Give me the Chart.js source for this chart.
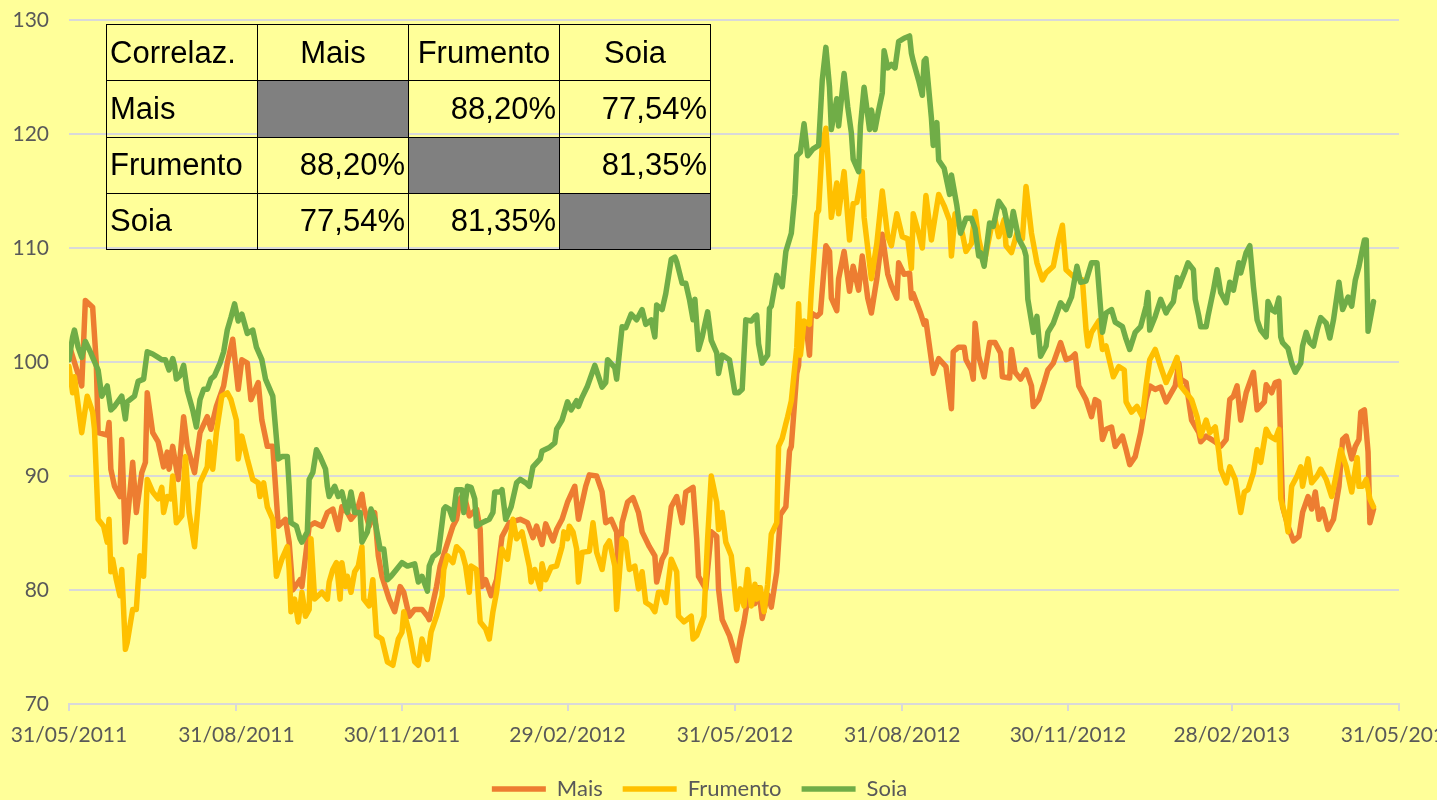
<!DOCTYPE html>
<html>
<head>
<meta charset="utf-8">
<script src="https://cdn.jsdelivr.net/npm/chart.js@4.4.1/dist/chart.umd.min.js"></script>
<style>
  html, body { margin: 0; padding: 0; background: #FFFF99; overflow: hidden; }
  #wrap { position: relative; width: 1437px; height: 800px; overflow: hidden; }
  #box { position: absolute; left: 0; top: 0; width: 1437px; height: 810px; }
  table.corr {
    position: absolute; left: 106px; top: 24px; width: 605px; height: 226px;
    border-collapse: collapse; table-layout: fixed;
    font-family: 'Liberation Sans', Arial, sans-serif; font-size: 31px; color: #000;
  }
  table.corr td { border: 1.5px solid #000; padding: 0 3px; white-space: nowrap; }
  table.corr td.num { text-align: right; }
  table.corr td.head { text-align: center; }
  table.corr td.gray { background: #808080; }
</style>
</head>
<body>
<div id="wrap">
  <div id="box"><canvas id="grafico"></canvas></div>
  <table class="corr" id="tabella"></table>
</div>
<script>
// asse x: giorni dal 31/05/2011
const tickDays = [0, 92, 183, 274, 366, 458, 549, 639, 731];
const tickLabels = ['31/05/2011', '31/08/2011', '30/11/2011', '29/02/2012', '31/05/2012',
                    '31/08/2012', '30/11/2012', '28/02/2013', '31/05/2013'];

const maisDays = [0,1,7,9,13,15,16,21,22,23,25,28,29,31,35,37,40,42,43,46,49,52,54,55,57,60,63,65,69,72,76,78,81,85,87,90,93,95,98,100,104,106,109,112,115,119,121,123,127,128,132,135,139,142,145,148,150,153,155,158,161,162,165,168,170,172,176,179,182,184,187,190,194,197,198,202,204,207,211,213,215,217,220,224,226,227,229,232,235,238,242,248,252,255,257,260,262,266,268,271,274,278,280,284,286,290,293,295,298,301,302,304,307,310,313,315,319,322,323,326,328,331,334,337,339,343,345,346,350,353,356,357,359,363,367,369,371,374,375,377,379,381,384,386,389,391,394,396,397,400,401,402,405,407,408,411,413,416,418,419,422,423,426,429,431,434,436,439,441,444,447,450,452,455,456,459,462,463,464,468,470,471,475,478,482,485,486,489,492,493,496,497,498,500,503,506,509,512,513,517,518,520,523,526,529,530,533,536,538,541,545,548,551,553,555,559,562,564,566,568,570,573,575,579,581,583,586,589,592,594,597,600,603,608,610,611,614,617,621,622,625,630,633,636,638,640,642,644,647,651,653,657,658,661,663,665,667,670,673,676,678,681,683,685,687,689,692,695,698,700,702,705,707,709,710,712,714,715,717];
const maisValues = [100.5,101.0,97.9,105.4,104.8,99.9,93.8,93.6,94.7,90.6,89.1,88.2,93.2,84.2,91.2,86.8,90.3,91.2,97.3,93.8,93.0,90.8,92.1,90.6,92.6,89.7,95.2,92.6,90.3,93.8,95.2,94.1,96.1,97.9,99.9,102.0,97.6,100.2,99.9,96.7,98.2,94.9,92.6,92.6,85.6,86.2,84.2,80.0,80.9,80.3,85.6,85.9,85.6,86.8,87.1,85.3,87.3,86.8,86.2,86.8,88.4,87.3,85.6,86.8,83.0,81.2,79.2,78.1,80.3,79.8,77.7,78.3,78.3,77.7,77.4,80.3,82.1,83.6,85.6,86.2,88.0,88.4,86.5,87.1,85.3,80.3,80.9,79.5,80.9,84.7,85.9,86.2,85.9,84.6,85.6,84.0,85.8,84.3,85.3,86.2,87.7,89.1,86.2,89.1,90.1,90.0,88.6,85.9,86.2,85.1,81.0,85.9,87.7,88.1,86.8,85.1,83.8,83.0,80.7,82.7,83.3,87.3,88.2,85.9,88.6,89.0,84.5,81.2,80.1,85.1,84.7,80.1,77.4,76.0,73.8,75.7,77.2,80.1,79.2,78.8,80.2,77.5,79.6,78.5,81.6,86.6,87.3,92.2,92.6,99.0,99.7,103.3,103.3,100.6,104.3,104.0,104.3,110.2,109.7,105.6,104.5,107.3,109.7,106.2,108.4,106.3,109.3,105.6,104.3,107.3,111.2,107.7,106.7,105.6,108.7,107.7,107.8,105.6,106.0,104.3,103.3,103.6,99.0,100.3,99.6,95.9,100.9,101.3,101.3,100.2,99.3,98.5,103.4,100.5,98.7,101.7,101.7,100.8,98.7,98.6,101.1,99.1,98.5,99.3,97.9,96.1,96.7,98.2,99.3,99.9,101.7,100.2,100.4,100.7,97.9,96.7,95.2,96.7,96.5,93.2,94.1,94.3,92.6,93.5,92.3,91.0,91.7,93.8,96.7,97.9,97.6,97.8,96.5,97.9,99.9,98.5,98.2,94.9,93.8,93.0,93.5,93.0,92.6,93.2,96.7,97.0,97.9,94.9,97.3,99.1,95.8,96.5,98.0,97.3,98.2,98.3,87.3,85.6,84.3,84.7,86.8,88.2,87.1,88.6,86.2,87.1,85.3,86.2,89.1,93.2,93.5,91.5,92.6,93.2,95.6,95.8,92.1,85.9,87.1];

const frumentoDays = [0,2,3,7,10,13,14,16,19,21,22,23,24,26,28,29,31,32,35,37,39,41,43,46,49,51,52,54,56,57,59,62,64,66,69,72,76,77,79,81,84,87,89,92,93,95,98,101,104,105,107,109,112,114,117,120,121,122,124,126,128,130,132,133,135,139,142,143,145,147,149,150,152,153,155,157,159,161,162,165,167,169,172,175,178,181,183,184,187,190,192,194,197,199,202,205,206,208,211,213,216,218,220,221,224,226,229,231,233,235,238,241,244,246,249,253,254,256,259,260,262,265,268,271,272,274,275,277,279,280,282,286,288,290,293,295,297,300,301,304,306,308,311,313,315,317,320,322,324,326,328,331,334,335,338,342,343,345,349,351,353,356,357,359,361,364,367,369,371,373,375,377,378,380,382,384,386,389,390,392,394,395,397,400,401,402,404,407,408,411,412,414,416,417,419,422,423,426,429,431,433,436,437,441,444,447,450,452,455,458,461,463,464,467,469,471,474,478,481,484,485,487,491,493,496,498,500,503,507,509,511,514,515,518,521,524,526,529,532,535,537,541,544,546,548,552,557,559,560,562,566,568,570,574,577,580,581,584,587,590,592,594,597,600,603,607,609,611,614,617,620,622,625,627,630,632,633,636,638,641,644,646,648,651,653,655,658,660,663,665,666,669,670,672,675,677,678,681,683,686,688,691,694,696,699,702,705,708,709,711,713,715,717];
const frumentoValues = [99.6,97.3,98.7,93.8,97.0,95.6,94.1,86.2,85.6,84.2,86.2,81.6,82.7,80.9,79.5,81.8,74.8,75.4,78.3,78.3,83.0,81.2,89.7,88.6,88.0,89.0,86.8,88.2,88.0,90.0,85.9,86.5,91.7,86.8,83.8,89.4,90.8,93.0,90.6,93.8,97.0,97.3,96.7,94.9,91.5,93.5,91.5,89.7,89.4,88.2,89.4,87.3,86.2,81.2,82.7,83.8,81.8,78.1,79.2,77.2,79.8,77.7,78.3,84.5,79.2,79.8,79.2,80.7,81.8,82.4,79.2,82.4,80.3,81.2,79.8,81.6,82.1,83.8,79.2,78.6,80.9,76.0,75.7,73.7,73.4,75.7,76.3,78.1,76.3,73.7,73.4,75.7,73.9,76.3,77.7,79.5,81.8,83.0,82.4,83.8,83.3,82.1,79.8,82.1,81.8,77.2,76.6,75.7,78.1,79.8,83.6,82.7,86.2,84.5,85.1,82.1,80.7,81.8,80.1,82.3,80.9,82.0,82.1,83.8,85.1,84.5,85.6,85.1,83.6,80.7,83.3,83.4,85.9,83.3,81.8,83.8,84.3,82.1,78.3,84.5,84.2,81.8,82.1,80.1,81.6,78.9,78.6,78.1,79.8,79.8,78.9,82.7,81.6,77.7,77.2,77.7,75.7,76.0,77.7,84.5,90.0,87.7,85.3,86.8,84.2,83.0,78.3,80.1,78.6,81.8,78.6,80.5,79.2,80.2,78.1,80.5,84.9,85.9,92.6,93.3,94.6,95.2,96.6,101.3,105.1,100.6,103.6,103.3,106.3,113.0,113.3,119.0,120.5,118.1,112.7,115.7,113.0,116.7,110.7,113.9,114.0,116.7,112.7,107.3,110.4,115.0,111.0,110.2,113.0,111.0,110.8,108.2,113.0,111.3,110.0,114.6,110.7,114.7,113.7,112.4,109.3,113.0,111.3,109.7,110.4,113.2,110.8,108.7,111.9,112.5,111.0,112.5,110.2,109.6,111.3,110.8,115.4,111.3,108.7,107.2,107.8,108.4,110.8,112.0,108.1,107.5,107.2,102.8,101.4,102.6,103.6,101.1,101.4,98.7,99.6,99.3,96.5,95.6,96.1,95.2,97.9,100.2,101.1,99.6,98.2,99.6,100.4,97.9,97.3,96.7,95.2,93.5,94.9,93.8,94.3,92.1,90.6,89.4,90.8,89.7,86.8,88.6,88.8,90.3,92.3,91.2,94.1,93.5,93.2,94.1,88.0,86.2,85.1,89.1,90.0,90.8,89.1,91.5,89.4,90.0,90.6,89.7,88.2,89.7,92.3,90.8,88.6,91.6,89.1,89.1,89.7,88.0,87.3];

const soiaDays = [0,2,3,5,7,9,12,13,16,18,21,23,25,29,31,32,36,38,41,43,46,49,51,53,55,57,58,59,61,63,65,68,70,72,74,76,78,80,83,85,87,89,91,93,95,98,101,103,106,108,112,115,117,120,121,122,125,127,128,131,132,134,136,138,141,142,143,146,148,150,152,153,155,157,160,161,164,166,168,171,173,175,177,180,183,186,190,192,194,197,198,200,203,204,206,207,209,211,213,216,217,219,221,223,224,227,231,233,234,237,238,240,243,246,248,251,253,255,259,260,264,267,268,271,274,276,279,280,282,285,289,293,295,296,300,301,304,306,309,312,315,317,320,322,323,326,328,331,333,334,337,339,341,343,344,346,348,351,353,356,357,359,363,366,368,370,372,375,377,378,379,381,384,385,386,389,392,394,397,399,400,402,404,406,409,412,414,416,418,419,422,423,426,428,430,431,434,435,437,440,441,443,445,447,448,450,452,454,456,459,462,463,464,467,469,470,471,474,475,477,478,481,484,485,488,490,493,496,498,500,501,503,506,508,511,514,517,519,522,525,526,527,530,532,534,537,538,541,545,548,551,554,556,559,562,565,568,570,573,575,579,581,583,586,589,592,593,594,597,600,603,604,607,609,610,613,615,618,619,621,622,625,626,629,631,633,636,638,640,643,644,647,649,651,653,655,658,659,661,663,665,666,667,670,672,674,677,678,680,682,684,686,688,691,693,695,698,700,703,705,707,709,710,712,713,714,717];
const soiaValues = [100.2,102.2,102.8,101.3,100.4,101.8,100.8,100.4,99.3,97.0,97.9,95.8,96.1,97.0,95.0,96.5,97.0,98.3,98.5,100.9,100.7,100.4,100.2,100.2,99.3,100.3,99.7,98.5,98.8,99.7,97.5,95.8,94.3,96.7,97.6,97.6,98.5,98.8,99.9,100.9,102.8,103.9,105.1,103.6,104.2,102.5,102.8,101.3,100.2,98.5,97.0,91.5,91.7,91.7,89.1,85.9,85.6,84.5,84.2,85.1,89.7,90.3,92.3,91.7,90.6,89.1,88.2,89.1,88.2,88.6,87.3,86.8,88.6,86.8,86.8,84.2,85.1,87.1,86.2,83.6,83.6,80.9,81.2,81.8,82.4,82.1,82.3,80.7,81.2,79.9,82.1,82.9,83.3,84.5,87.1,87.3,87.1,86.2,88.8,88.8,86.8,89.1,89.0,88.0,85.6,85.9,86.2,86.8,88.6,88.6,88.8,86.2,87.3,89.4,89.7,89.4,89.1,90.8,91.5,92.2,92.5,92.9,94.1,94.9,96.5,95.8,96.6,96.1,96.9,97.9,99.7,97.8,98.2,100.2,99.5,98.5,103.1,103.0,104.2,103.7,104.6,103.3,103.7,102.2,105.0,104.6,106.0,109.0,109.2,108.8,106.9,106.9,105.5,103.7,105.5,101.1,102.2,104.4,101.9,100.8,99.0,100.6,100.2,97.3,97.3,97.6,103.7,103.6,104.0,104.1,101.6,99.9,100.6,104.7,104.9,107.6,106.6,109.7,111.3,114.7,118.1,118.4,120.9,118.1,118.7,119.0,124.7,127.6,124.1,120.4,123.1,120.7,125.3,122.4,120.1,117.8,116.7,120.7,124.1,120.4,122.1,120.4,122.1,123.6,127.3,125.8,126.1,125.8,128.1,128.4,128.6,127.1,126.4,124.7,123.4,126.4,126.6,121.4,119.0,121.0,117.7,117.0,114.7,116.4,113.7,111.3,112.6,112.6,111.7,109.3,109.6,108.4,112.2,111.9,114.1,113.4,111.1,113.2,110.8,109.9,109.3,105.5,102.6,104.0,100.5,101.4,102.6,103.4,105.2,104.6,105.7,108.4,107.0,107.1,108.7,108.7,102.6,104.3,104.6,103.5,103.1,102.0,101.1,102.6,103.1,104.9,106.1,102.8,104.0,105.5,104.3,104.6,105.3,107.4,106.6,107.8,108.7,108.1,105.5,104.0,103.1,103.1,104.0,106.3,108.1,106.1,105.2,107.0,106.3,108.7,107.8,109.6,110.2,106.6,103.7,102.8,102.2,105.3,104.6,104.4,105.6,102.2,101.7,101.2,99.9,99.1,99.9,101.4,102.6,101.7,101.4,102.8,103.9,103.4,102.1,103.7,107.0,104.6,105.7,104.9,107.2,108.4,109.2,110.7,110.7,102.7,105.3];

// tabella correlazioni
const crops = ['Mais', 'Frumento', 'Soia'];
const corrValues = [
  [null, '88,20%', '77,54%'],
  ['88,20%', null, '81,35%'],
  ['77,54%', '81,35%', null]
];

const tabella = document.getElementById('tabella');
let html = '<tr><td>Correlaz.</td>' + crops.map(c => '<td class="head">' + c + '</td>').join('') + '</tr>';
crops.forEach((c, i) => {
  html += '<tr><td>' + c + '</td>';
  corrValues[i].forEach(v => {
    html += v === null ? '<td class="gray"></td>' : '<td class="num">' + v + '</td>';
  });
  html += '</tr>';
});
tabella.innerHTML = html;

function punti(days, values) {
  return days.map((d, i) => ({ x: d, y: values[i] }));
}

Chart.defaults.font.family = 'Lato';
Chart.defaults.font.size = 21;
Chart.defaults.color = '#595959';

const grafico = new Chart(document.getElementById('grafico'), {
  type: 'line',
  data: {
    datasets: [
      { label: 'Mais', data: punti(maisDays, maisValues), borderColor: '#ED7D31', backgroundColor: '#ED7D31', borderWidth: 5.5, order: 3 },
      { label: 'Frumento', data: punti(frumentoDays, frumentoValues), borderColor: '#FFC000', backgroundColor: '#FFC000', borderWidth: 5.5, order: 2 },
      { label: 'Soia', data: punti(soiaDays, soiaValues), borderColor: '#70AD47', backgroundColor: '#70AD47', borderWidth: 5.5, order: 1 }
    ]
  },
  options: {
    responsive: true,
    maintainAspectRatio: false,
    animation: false,
    elements: {
      line: { tension: 0, borderJoinStyle: 'round', borderCapStyle: 'round' },
      point: { radius: 0 }
    },
    layout: { padding: { top: 20, right: 38, left: 0, bottom: 0 } },
    scales: {
      x: {
        type: 'linear',
        min: 0,
        max: 731,
        afterBuildTicks: (scale) => { scale.ticks = tickDays.map(v => ({ value: v })); },
        afterFit: (scale) => {
          scale.height = 54;
          scale.paddingLeft = 0; scale.paddingRight = 0;
          scale.paddingTop = 0; scale.paddingBottom = 0;
        },
        ticks: {
          autoSkip: false,
          maxRotation: 0,
          padding: 12,
          callback: (value) => {
            const i = tickDays.indexOf(value);
            return i >= 0 ? tickLabels[i] : '';
          }
        },
        grid: { drawOnChartArea: false, color: '#D9D9D9', lineWidth: 2, tickLength: 7 },
        border: { color: '#D9D9D9', width: 2 }
      },
      y: {
        min: 70,
        max: 130,
        afterFit: (scale) => {
          scale.width = 69;
          scale.paddingTop = 0; scale.paddingBottom = 0;
        },
        ticks: { stepSize: 10, padding: 20 },
        grid: { color: '#D9D9D9', lineWidth: 2, drawTicks: false },
        border: { display: false }
      }
    },
    plugins: {
      legend: {
        position: 'bottom',
        labels: {
          usePointStyle: true,
          pointStyle: 'line',
          pointStyleWidth: 54,
          padding: 20,
          color: '#595959',
          font: { size: 22 },
          sort: (a, b) => a.datasetIndex - b.datasetIndex
        }
      },
      tooltip: { enabled: false }
    }
  }
});
</script>
</body>
</html>
